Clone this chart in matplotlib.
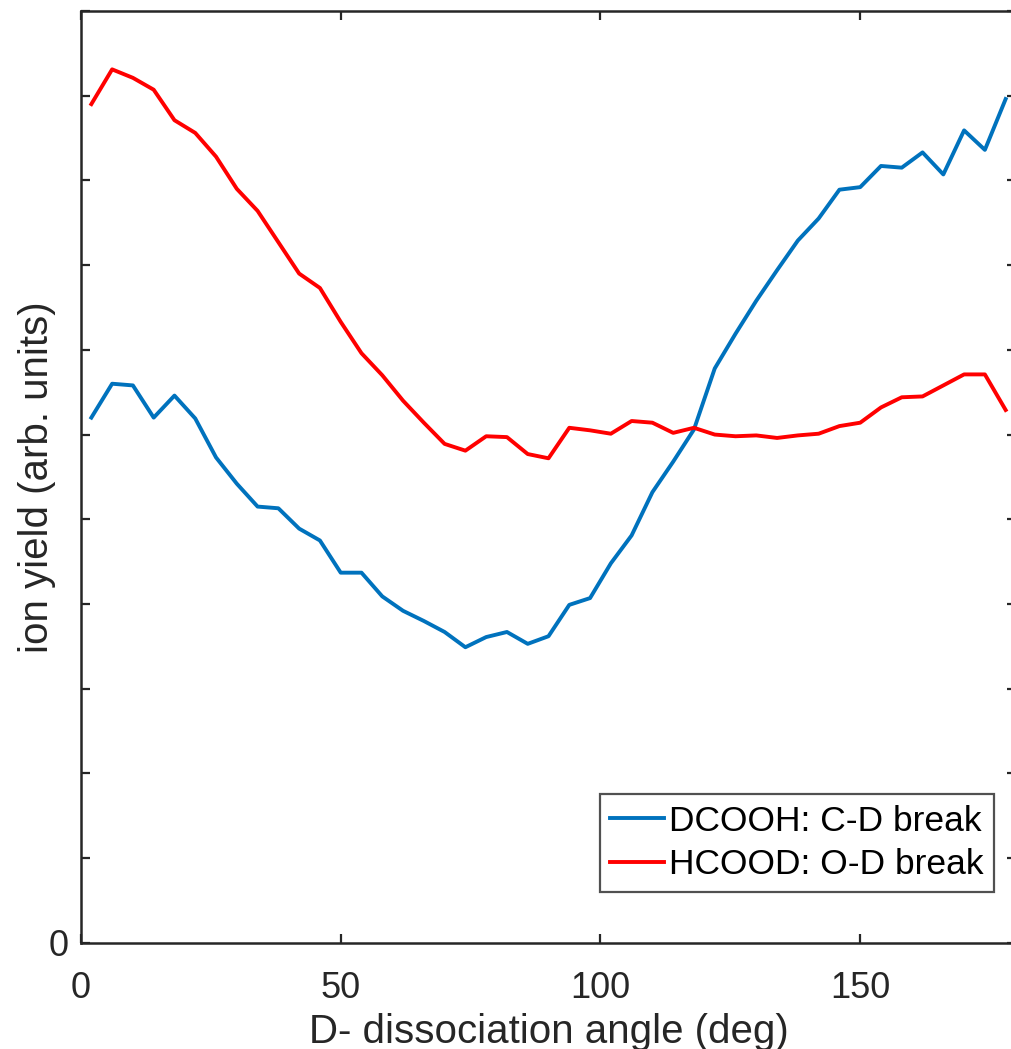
import matplotlib
matplotlib.use("Agg")
import matplotlib.pyplot as plt

plt.rcParams['font.family'] = ['Liberation Sans', 'DejaVu Sans']

# Dissociation angle bins (deg)
angle = list(range(2, 180, 4))

# Ion yield, arbitrary units
dcooh_cd = [6.20, 6.60, 6.58, 6.20, 6.46, 6.19, 5.73, 5.42, 5.15, 5.13,
            4.89, 4.75, 4.37, 4.37, 4.09, 3.92, 3.80, 3.67, 3.49, 3.61,
            3.67, 3.53, 3.62, 3.99, 4.07, 4.48, 4.81, 5.32, 5.68, 6.06,
            6.78, 7.19, 7.58, 7.94, 8.29, 8.55, 8.89, 8.92, 9.17, 9.15,
            9.33, 9.07, 9.59, 9.36, 9.96]
hcood_od = [9.90, 10.31, 10.21, 10.07, 9.71, 9.56, 9.28, 8.90, 8.64, 8.27,
            7.90, 7.73, 7.33, 6.96, 6.70, 6.40, 6.14, 5.89, 5.81, 5.98,
            5.97, 5.77, 5.72, 6.08, 6.05, 6.01, 6.16, 6.14, 6.02, 6.08,
            6.00, 5.98, 5.99, 5.96, 5.99, 6.01, 6.10, 6.14, 6.32, 6.44,
            6.45, 6.58, 6.71, 6.71, 6.29]

series_labels = ['DCOOH: C-D break', 'HCOOD: O-D break']
x_ticks = [0, 50, 100, 150]
y_ticks = list(range(0, 12))
y_tick_labels = ['0'] + [''] * 11

axis_color = '#262626'

fig = plt.figure(figsize=(10.12, 10.49), dpi=100)
ax = fig.add_axes([0.080, 0.1011, 0.924, 0.8885])

ax.plot(angle, dcooh_cd, color='#0072BD', lw=2.8, label=series_labels[0])
ax.plot(angle, hcood_od, color='#FF0000', lw=2.8, label=series_labels[1])

ax.set_xlim(0, 180)
ax.set_ylim(0, 11)
ax.set_xticks(x_ticks)
ax.set_yticks(y_ticks)
ax.set_yticklabels(y_tick_labels)

ax.tick_params(direction='in', length=6.5, width=1.6, colors=axis_color,
               labelsize=26, top=True, right=True)
ax.tick_params(axis='x', pad=20)
ax.tick_params(axis='y', pad=9)
for s in ax.spines.values():
    s.set_linewidth(1.8)
    s.set_color(axis_color)

ax.set_xlabel('D- dissociation angle (deg)', fontsize=29, color=axis_color)
ax.set_ylabel('ion yield (arb. units)', fontsize=29, color=axis_color)
ax.xaxis.set_label_coords(0.5, -0.075)
ax.yaxis.set_label_coords(-0.047, 0.5)
ax.yaxis.label.set_va('center')
ax.xaxis.label.set_va('top')

leg = ax.legend(loc='lower right', bbox_to_anchor=(0.9765, 0.0547), fontsize=25.5,
                frameon=True, fancybox=False, edgecolor=axis_color,
                handlelength=1.5, handletextpad=0.15, borderpad=0.3,
                labelspacing=0.3, borderaxespad=0.0)
leg.get_frame().set_linewidth(1.6)
for t in leg.get_texts():
    t.set_color('black')

fig.savefig('out.png', dpi=100, facecolor='white')
